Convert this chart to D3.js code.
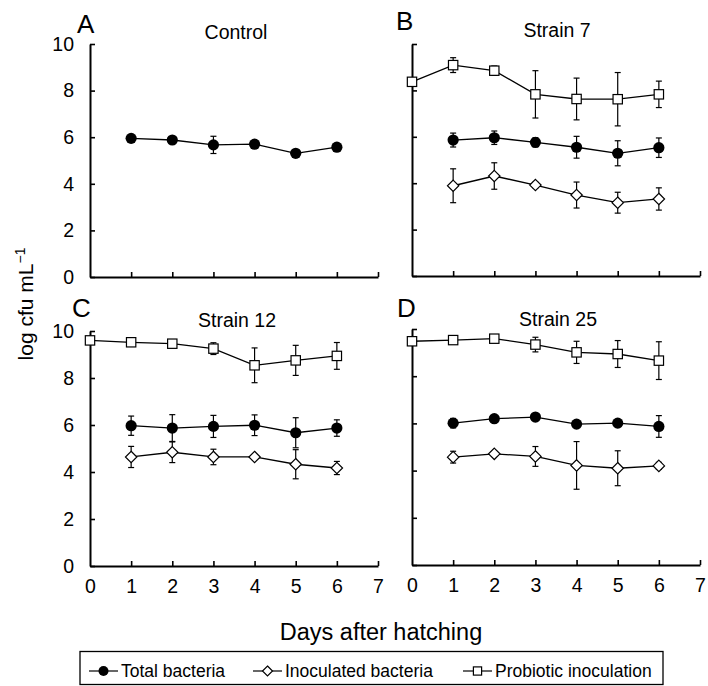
<!DOCTYPE html>
<html>
<head>
<meta charset="utf-8">
<script src="https://cdn.jsdelivr.net/npm/d3@7"></script>
<style>
  body { margin: 0; background: #fff; }
  svg { display: block; font-family: "Liberation Sans", Arial, sans-serif; }
</style>
</head>
<body>
<script>
// days after hatching
const days = [0, 1, 2, 3, 4, 5, 6];
const xTicks = [0, 1, 2, 3, 4, 5, 6, 7];
const yTicks = [0, 2, 4, 6, 8, 10];

// Control
const controlTotal = [null, 5.95, 5.88, 5.67, 5.70, 5.31, 5.57];
const controlTotalErr = [null, 0.1, 0.1, 0.37, 0.1, 0.1, 0.1];

// Strain 7
const s7Probiotic = [8.37, 9.09, 8.85, 7.83, 7.63, 7.62, 7.83];
const s7ProbioticErr = [0, 0.32, 0.2, 1.02, 0.9, 1.15, 0.57];
const s7Total = [null, 5.86, 5.96, 5.76, 5.55, 5.29, 5.53];
const s7TotalErr = [null, 0.3, 0.29, 0.2, 0.47, 0.54, 0.42];
const s7Inoc = [null, 3.89, 4.31, 3.92, 3.49, 3.16, 3.32];
const s7InocErr = [null, 0.73, 0.57, 0.12, 0.56, 0.45, 0.48];

// Strain 12
const s12Probiotic = [9.60, 9.52, 9.46, 9.25, 8.54, 8.75, 8.94];
const s12ProbioticErr = [0, 0.08, 0.08, 0.25, 0.74, 0.64, 0.57];
const s12Total = [null, 5.97, 5.87, 5.94, 5.99, 5.67, 5.87];
const s12TotalErr = [null, 0.41, 0.57, 0.47, 0.44, 0.64, 0.35];
const s12Inoc = [null, 4.64, 4.84, 4.64, 4.64, 4.33, 4.17];
const s12InocErr = [null, 0.45, 0.44, 0.33, 0.08, 0.62, 0.28];

// Strain 25
const s25Probiotic = [9.48, 9.53, 9.59, 9.34, 9.01, 8.94, 8.66];
const s25ProbioticErr = [0, 0.05, 0.05, 0.31, 0.47, 0.57, 0.80];
const s25Total = [null, 6.01, 6.20, 6.27, 5.97, 6.01, 5.87];
const s25TotalErr = [null, 0.2, 0.1, 0.1, 0.1, 0.1, 0.46];
const s25Inoc = [null, 4.57, 4.71, 4.60, 4.22, 4.10, 4.20];
const s25InocErr = [null, 0.25, 0.1, 0.42, 1.01, 0.74, 0.15];

const legendNames = ["Total bacteria", "Inoculated bacteria", "Probiotic inoculation"];

const panels = [
  { letter: "A", title: "Control", x0: 90, top: 44, bottom: 277, yLabels: true, xLabels: false,
    lx: 77, ly: 33, tx: 236, ty: 39,
    series: [{ type: "circle", v: controlTotal, e: controlTotalErr }] },
  { letter: "B", title: "Strain 7", x0: 412, top: 44, bottom: 276, yLabels: false, xLabels: false,
    lx: 396, ly: 30, tx: 557, ty: 37,
    series: [
      { type: "square", v: s7Probiotic, e: s7ProbioticErr },
      { type: "diamond", v: s7Inoc, e: s7InocErr },
      { type: "circle", v: s7Total, e: s7TotalErr }] },
  { letter: "C", title: "Strain 12", x0: 90, top: 331, bottom: 566, yLabels: true, xLabels: true,
    lx: 72, ly: 317, tx: 237, ty: 327,
    series: [
      { type: "square", v: s12Probiotic, e: s12ProbioticErr },
      { type: "diamond", v: s12Inoc, e: s12InocErr },
      { type: "circle", v: s12Total, e: s12TotalErr }] },
  { letter: "D", title: "Strain 25", x0: 412, top: 329, bottom: 565, yLabels: false, xLabels: true,
    lx: 397, ly: 317, tx: 558, ty: 326,
    series: [
      { type: "square", v: s25Probiotic, e: s25ProbioticErr },
      { type: "diamond", v: s25Inoc, e: s25InocErr },
      { type: "circle", v: s25Total, e: s25TotalErr }] }
];

const svg = d3.select("body").append("svg")
  .attr("width", 708)
  .attr("height", 686);

// marker shapes, s = half size
function drawMarker(g, type, cx, cy, s) {
  if (type === "circle") {
    g.append("circle").attr("cx", cx).attr("cy", cy).attr("r", s)
      .attr("fill", "#000");
  } else if (type === "square") {
    const h = s * 0.82;
    g.append("rect").attr("x", cx - h).attr("y", cy - h)
      .attr("width", 2 * h).attr("height", 2 * h)
      .attr("fill", "#fff").attr("stroke", "#000").attr("stroke-width", 1.2);
  } else {
    g.append("path")
      .attr("d", `M${cx},${cy - s}L${cx + s},${cy}L${cx},${cy + s}L${cx - s},${cy}Z`)
      .attr("fill", "#fff").attr("stroke", "#000").attr("stroke-width", 1.2);
  }
}

panels.forEach((p) => {
  const x = d3.scaleLinear().domain([0, 7]).range([p.x0, p.x0 + 288]);
  const y = d3.scaleLinear().domain([0, 10]).range([p.bottom, p.top]);
  const g = svg.append("g");

  // y axis
  const yAxis = d3.axisLeft(y).tickValues(yTicks).tickSize(-5).tickSizeOuter(0).tickPadding(16)
    .tickFormat(d3.format("d"));
  if (!p.yLabels) yAxis.tickFormat("");
  const ya = g.append("g").attr("transform", `translate(${p.x0},0)`).call(yAxis);

  // x axis
  const xAxis = d3.axisBottom(x).tickValues(xTicks).tickSize(-5).tickSizeOuter(0).tickPadding(13)
    .tickFormat(d3.format("d"));
  if (!p.xLabels) xAxis.tickFormat("");
  const xa = g.append("g").attr("transform", `translate(0,${p.bottom})`).call(xAxis);
  xa.select(".tick").filter((d) => d === 0).select("line").remove();

  [ya, xa].forEach((a) => {
    a.select(".domain").attr("stroke-width", 2);
    a.selectAll(".tick line").attr("stroke-width", 1.6);
    a.selectAll("text").attr("font-size", 19.5).attr("fill", "#000")
      .attr("font-family", "Liberation Sans, Arial, sans-serif");
  });

  // panel letter and title
  g.append("text").attr("x", p.lx).attr("y", p.ly).attr("font-size", 26).text(p.letter);
  g.append("text").attr("x", p.tx).attr("y", p.ty).attr("font-size", 19.5)
    .attr("text-anchor", "middle").text(p.title);

  p.series.forEach((s) => {
    const pts = days.map((d, i) => ({ d: d, v: s.v[i], e: s.e[i] }))
      .filter((o) => o.v !== null);
    const line = d3.line().x((o) => x(o.d)).y((o) => y(o.v));
    g.append("path").datum(pts).attr("d", line)
      .attr("fill", "none").attr("stroke", "#000").attr("stroke-width", 1.3);

    // error bars
    pts.forEach((o) => {
      if (!o.e) return;
      const cx = x(o.d);
      const eg = g.append("g").attr("stroke", "#000").attr("stroke-width", 1.2);
      eg.append("line").attr("x1", cx).attr("x2", cx)
        .attr("y1", y(o.v + o.e)).attr("y2", y(o.v - o.e));
      [o.v + o.e, o.v - o.e].forEach((t) => {
        eg.append("line").attr("x1", cx - 3).attr("x2", cx + 3)
          .attr("y1", y(t)).attr("y2", y(t));
      });
    });

    pts.forEach((o) => drawMarker(g, s.type, x(o.d), y(o.v), s.type === "circle" ? 5.6 : 5.7));
  });
});

// y axis title
const yt = svg.append("text")
  .attr("transform", "translate(33,304) rotate(-90)")
  .attr("text-anchor", "middle")
  .attr("font-size", 21);
yt.append("tspan").text("log cfu mL");
yt.append("tspan").attr("font-size", 14).attr("dy", "-0.6em").text("\u22121");

// x axis title
svg.append("text").attr("x", 381).attr("y", 640).attr("text-anchor", "middle")
  .attr("font-size", 23.5).text("Days after hatching");

// legend
const legend = svg.append("g");
legend.append("rect").attr("x", 80).attr("y", 651.5).attr("width", 583).attr("height", 33)
  .attr("fill", "none").attr("stroke", "#000").attr("stroke-width", 1.3);

const legendTypes = ["circle", "diamond", "square"];
const legendX = [89, 253, 463];
legendNames.forEach((name, i) => {
  const lx = legendX[i];
  const ly = 671;
  legend.append("line").attr("x1", lx).attr("x2", lx + 29).attr("y1", ly).attr("y2", ly)
    .attr("stroke", "#000").attr("stroke-width", 1.2);
  drawMarker(legend, legendTypes[i], lx + 14.5, ly, 5);
  legend.append("text").attr("x", lx + 32).attr("y", 677).attr("font-size", 17.5).text(name);
});
</script>
</body>
</html>
